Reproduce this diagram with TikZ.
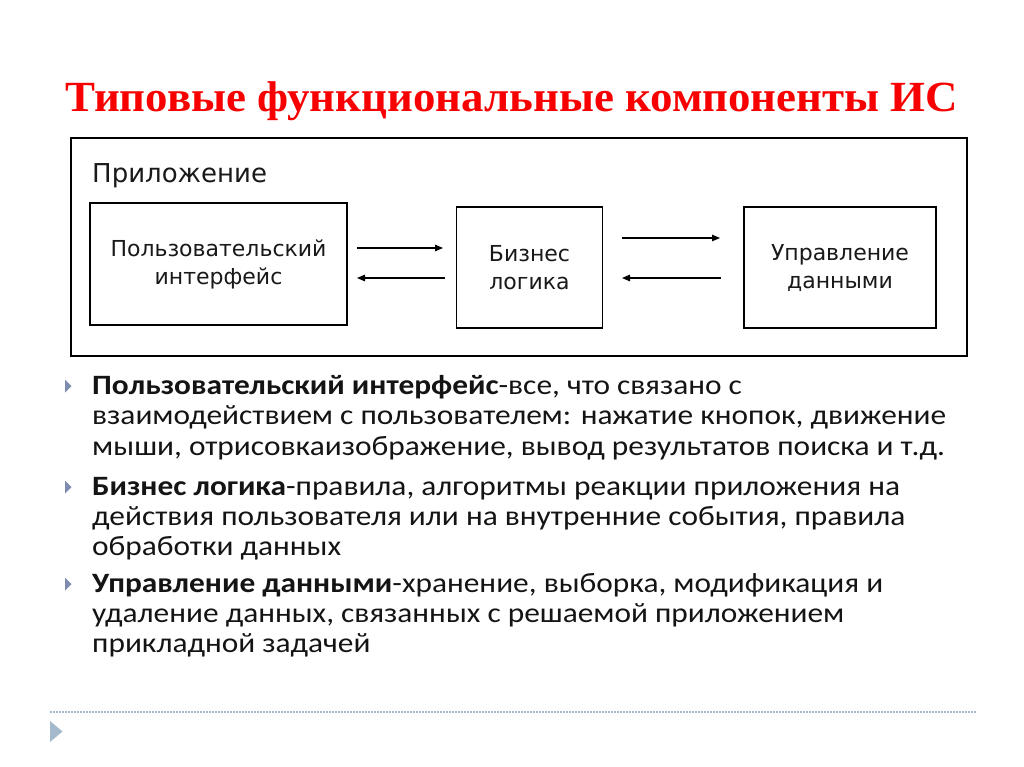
\documentclass[tikz,border=0pt]{standalone}
\usepackage{fontspec}
\setmainfont{Carlito}
\newfontfamily\titlefont{Liberation Serif}
\newfontfamily\boxfont{DejaVu Sans}
\usetikzlibrary{arrows.meta}
\definecolor{titlered}{RGB}{248,0,0}
\definecolor{bodytext}{RGB}{20,20,20}
\definecolor{bulletcol}{RGB}{125,140,175}
\definecolor{footcol}{RGB}{165,185,205}
\newcommand{\bodyline}[1]{\scalebox{1.12}[1]{#1}}
\tikzset{
  box/.style={draw=black, line width=1.3pt, inner sep=0pt, align=center,
    font=\boxfont\fontsize{22}{28}\selectfont, text=black!90},
  flow/.style={line width=1.2pt, -{Triangle[length=8pt,width=6.5pt]}},
  line/.style={anchor=base west, inner sep=0pt, text=bodytext,
    font=\fontsize{28}{30}\selectfont},
  bul/.style={fill=bulletcol, draw=none},
}
\begin{document}
\begin{tikzpicture}[x=1pt,y=-1pt]
\useasboundingbox (0,0) rectangle (1024,767);
\fill[white] (0,0) rectangle (1024,767);
% title
\node[anchor=base west, inner sep=0pt, text=titlered] (title) at (65,111.5)
  {\resizebox{893pt}{\height}{\titlefont\fontsize{43}{43}\selectfont\bfseries Типовые функциональные компоненты ИС}};
% application frame
\draw[line width=2pt] (71,138) rectangle (967,356);
\node[anchor=base west, inner sep=0pt, font=\boxfont\fontsize{26}{26}\selectfont, text=black!90] (app) at (92,183) {Приложение};
% boxes
\node[box, minimum width=257pt, minimum height=122pt] (ui) at (218.5,264) {Пользовательский\\интерфейс};
\node[box, minimum width=146pt, minimum height=121pt] (bl) at (529.5,267.5) {Бизнес\\логика};
\node[box, minimum width=192pt, minimum height=121pt] (dm) at (840,267.5) {Управление\\данными};
% arrow ends
\coordinate (a1s) at (357,248); \coordinate (a1e) at (443,248);
\coordinate (a2s) at (445,278); \coordinate (a2e) at (357,278);
\coordinate (a3s) at (622,238); \coordinate (a3e) at (720,238);
\coordinate (a4s) at (721,278); \coordinate (a4e) at (622,278);
\draw[flow] (a1s) -- (a1e);
\draw[flow] (a2s) -- (a2e);
\draw[flow] (a3s) -- (a3e);
\draw[flow] (a4s) -- (a4e);
% bullets
\foreach \yy in {386,487,584}{
  \fill[bul] (65,\yy-6.5) -- (71.5,\yy) -- (65,\yy+6.5) -- cycle;
}
\node[line] (l1) at (92,394.5) {\bodyline{\textbf{Пользовательский интерфейс}-все, что связано с}};
\node[line] (l2) at (92,424.5) {\bodyline{взаимодействием с пользователем: нажатие кнопок, движение}};
\node[line] (l3) at (92,455) {\bodyline{мыши, отрисовкаизображение, вывод результатов поиска и т.д.}};
\node[line] (l4) at (92,495.5) {\bodyline{\textbf{Бизнес логика}-правила, алгоритмы реакции приложения на}};
\node[line] (l5) at (92,525.5) {\bodyline{действия пользователя или на внутренние события, правила}};
\node[line] (l6) at (92,555.5) {\bodyline{обработки данных}};
\node[line] (l7) at (92,592.5) {\bodyline{\textbf{Управление данными}-хранение, выборка, модификация и}};
\node[line] (l8) at (92,622.5) {\bodyline{удаление данных, связанных с решаемой приложением}};
\node[line] (l9) at (92,652) {\bodyline{прикладной задачей}};
% footer
\coordinate (f1) at (50,712); \coordinate (f2) at (976,712);
\draw[footcol, line width=1.5pt, dash pattern=on 1.5pt off 1.5pt] (f1) -- (f2);
\fill[footcol] (50,721) -- (62.5,731.5) -- (50,742) -- cycle;
\end{tikzpicture}
\end{document}
